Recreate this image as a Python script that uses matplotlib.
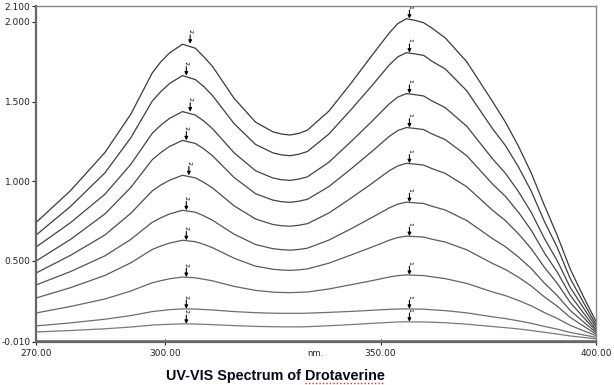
import matplotlib
matplotlib.use('Agg')
import matplotlib.pyplot as plt
from matplotlib.lines import Line2D

plt.rcParams['font.family'] = ['DejaVu Sans']

wavelength = [270, 278, 286, 292, 297, 299, 301, 304, 307, 309, 311, 316, 321, 325, 327, 329, 331, 333, 338,
              343, 348, 352, 354, 356, 358, 360, 362, 365, 370, 376, 379, 382, 385, 388, 391, 394, 397, 400]

# absorbance of each spectrum, highest to lowest concentration
abs_1 = [0.740, 0.940, 1.180, 1.420, 1.680, 1.750, 1.805, 1.860, 1.835, 1.780, 1.720, 1.520, 1.370, 1.310,
         1.296, 1.290, 1.300, 1.320, 1.440, 1.610, 1.790, 1.930, 1.990, 2.020, 2.010, 1.995, 1.960, 1.900,
         1.750, 1.500, 1.370, 1.220, 1.050, 0.850, 0.660, 0.450, 0.280, 0.120]
abs_2 = [0.661, 0.841, 1.052, 1.272, 1.503, 1.563, 1.613, 1.663, 1.638, 1.593, 1.537, 1.361, 1.230, 1.178,
         1.165, 1.160, 1.169, 1.186, 1.296, 1.445, 1.600, 1.729, 1.781, 1.807, 1.799, 1.790, 1.752, 1.705,
         1.568, 1.329, 1.223, 1.090, 0.936, 0.749, 0.585, 0.390, 0.243, 0.100]
abs_3 = [0.586, 0.739, 0.918, 1.105, 1.301, 1.352, 1.394, 1.437, 1.415, 1.377, 1.329, 1.178, 1.065, 1.020,
         1.009, 1.005, 1.013, 1.027, 1.119, 1.245, 1.376, 1.485, 1.528, 1.550, 1.543, 1.535, 1.503, 1.462,
         1.345, 1.140, 1.049, 0.935, 0.803, 0.642, 0.501, 0.334, 0.208, 0.085]
abs_4 = [0.498, 0.634, 0.794, 0.960, 1.135, 1.180, 1.218, 1.256, 1.237, 1.202, 1.159, 1.023, 0.921, 0.881,
         0.871, 0.867, 0.874, 0.886, 0.966, 1.074, 1.187, 1.281, 1.318, 1.337, 1.331, 1.324, 1.296, 1.261,
         1.160, 0.982, 0.904, 0.805, 0.691, 0.551, 0.430, 0.285, 0.176, 0.070]
abs_5 = [0.423, 0.534, 0.662, 0.798, 0.939, 0.976, 1.006, 1.037, 1.021, 0.992, 0.957, 0.845, 0.762, 0.728,
         0.720, 0.717, 0.723, 0.733, 0.800, 0.891, 0.986, 1.065, 1.096, 1.112, 1.107, 1.101, 1.078, 1.049,
         0.965, 0.817, 0.752, 0.670, 0.575, 0.460, 0.359, 0.239, 0.148, 0.060]
abs_6 = [0.348, 0.432, 0.531, 0.634, 0.742, 0.770, 0.794, 0.817, 0.805, 0.782, 0.754, 0.667, 0.602, 0.576,
         0.570, 0.567, 0.571, 0.579, 0.630, 0.699, 0.772, 0.832, 0.856, 0.868, 0.864, 0.860, 0.842, 0.819,
         0.753, 0.639, 0.588, 0.524, 0.451, 0.361, 0.282, 0.189, 0.119, 0.050]
abs_7 = [0.266, 0.331, 0.408, 0.487, 0.571, 0.593, 0.611, 0.629, 0.620, 0.603, 0.582, 0.516, 0.466, 0.447,
         0.442, 0.440, 0.443, 0.449, 0.485, 0.535, 0.586, 0.629, 0.646, 0.655, 0.652, 0.649, 0.635, 0.618,
         0.569, 0.483, 0.445, 0.397, 0.341, 0.274, 0.215, 0.145, 0.092, 0.040]
abs_8 = [0.172, 0.213, 0.260, 0.310, 0.362, 0.375, 0.387, 0.398, 0.393, 0.384, 0.374, 0.339, 0.314, 0.303,
         0.301, 0.300, 0.302, 0.304, 0.323, 0.349, 0.375, 0.398, 0.407, 0.411, 0.409, 0.407, 0.399, 0.388,
         0.358, 0.304, 0.281, 0.251, 0.217, 0.175, 0.138, 0.095, 0.062, 0.030]
abs_9 = [0.091, 0.110, 0.133, 0.156, 0.181, 0.187, 0.193, 0.198, 0.197, 0.194, 0.191, 0.181, 0.174, 0.171,
         0.170, 0.170, 0.170, 0.171, 0.176, 0.182, 0.189, 0.195, 0.197, 0.198, 0.197, 0.196, 0.192, 0.187,
         0.173, 0.148, 0.137, 0.123, 0.107, 0.088, 0.071, 0.050, 0.035, 0.020]
abs_10 = [0.053, 0.062, 0.073, 0.084, 0.096, 0.099, 0.101, 0.104, 0.103, 0.101, 0.099, 0.093, 0.088, 0.086,
          0.085, 0.085, 0.085, 0.086, 0.092, 0.099, 0.107, 0.113, 0.116, 0.117, 0.116, 0.116, 0.114, 0.111,
          0.102, 0.087, 0.080, 0.072, 0.062, 0.051, 0.040, 0.028, 0.019, 0.010]

spectra = [abs_1, abs_2, abs_3, abs_4, abs_5, abs_6, abs_7, abs_8, abs_9, abs_10]

# peak picks: label "2" near 305 nm, label "1" near 356 nm
peak2_nm = [305.8, 304.9, 305.8, 304.9, 305.5, 304.9, 304.9, 304.9, 304.9, 304.9]
peak2_abs = [1.863, 1.663, 1.437, 1.256, 1.037, 0.817, 0.629, 0.398, 0.198, 0.104]
peak1_nm = [356.7, 356.7, 356.7, 356.7, 356.7, 356.7, 356.7, 356.7, 356.7, 356.7]
peak1_abs = [2.020, 1.807, 1.550, 1.337, 1.112, 0.868, 0.655, 0.411, 0.198, 0.117]

yticks = [-0.010, 0.500, 1.000, 1.500, 2.000, 2.100]
xticks = [270, 300, 350, 400]

fig = plt.figure(figsize=(6.14, 3.85), dpi=100)
ax = fig.add_axes([0.0586, 0.1117, 0.912, 0.8727])

line_colors = ['#3a3a3a', '#3d3d3d', '#424242', '#474747', '#4c4c4c',
               '#545454', '#5c5c5c', '#666666', '#707070', '#7a7a7a']
for vals, col in zip(spectra, line_colors):
    ax.plot(wavelength, vals, color=col, linewidth=0.9)

ax.axhline(0.0, color='#888888', linewidth=0.8)

# peak arrows and labels
def mark(xs, ys, label):
    for x, y in zip(xs, ys):
        ax.annotate('', xy=(x, y), xytext=(x, y + 0.055),
                    arrowprops=dict(arrowstyle='-|>', color='black', lw=0.8,
                                    mutation_scale=5, shrinkA=0, shrinkB=0))
        ax.text(x, y + 0.065, label, rotation=-90, fontsize=4.5,
                ha='center', va='bottom', color='black')

mark(peak2_nm, peak2_abs, '2')
mark(peak1_nm, peak1_abs, '1')

ax.set_xlim(270, 400)
ax.set_ylim(-0.010, 2.100)
ax.set_xticks(xticks)
ax.set_xticklabels(['%.2f' % v for v in xticks])
ax.set_yticks(yticks)
ax.set_yticklabels(['%.3f' % v for v in yticks])
ax.tick_params(axis='both', labelsize=6.5, colors='#222222', width=0.8)
ax.tick_params(axis='y', direction='out', length=3, pad=1)
ax.tick_params(axis='x', direction='inout', length=4, pad=3)

for side in ['left', 'bottom']:
    ax.spines[side].set_color('#666666')
    ax.spines[side].set_linewidth(1.6)
for side in ['top', 'right']:
    ax.spines[side].set_color('#888888')
    ax.spines[side].set_linewidth(1.0)

fig.text(315 / 614, 1 - 354 / 385, 'nm.', fontsize=6, ha='center', va='center', color='#222222')

title_kw = dict(fontsize=10.4, fontweight='bold', family=['Liberation Sans', 'DejaVu Sans'])
title = fig.text(275 / 614, 1 - 376 / 385, 'UV-VIS Spectrum of Drotaverine',
                 ha='center', va='center', color='#0a0a1e', **title_kw)

# spell-check style dotted underline below the last word
fig.canvas.draw()
renderer = fig.canvas.get_renderer()
tb = title.get_window_extent(renderer)
probe = fig.text(0, 0, 'UV-VIS Spectrum of ', **title_kw)
pw = probe.get_window_extent(renderer).width
probe.remove()
W, H = fig.bbox.width, fig.bbox.height
y_ul = 2.5
fig.add_artist(Line2D([(tb.x0 + pw) / W, tb.x1 / W], [y_ul / H, y_ul / H],
                      transform=fig.transFigure, color='#e03030', linewidth=1.0,
                      linestyle=(0, (1, 1.5))))

fig.savefig('out.png', dpi=100)
